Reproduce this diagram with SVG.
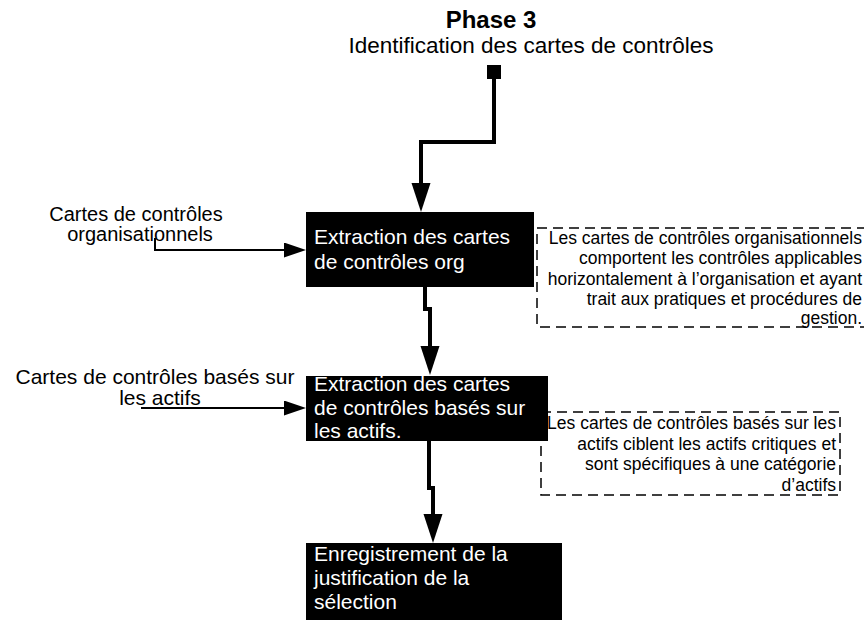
<svg xmlns="http://www.w3.org/2000/svg" width="864" height="620" viewBox="0 0 864 620">
<style>
text { font-family: "Liberation Sans", Arial, sans-serif; }
.title { font-size: 24px; font-weight: bold; fill: #000; }
.sub { font-size: 22.5px; fill: #000; }
.lbl { font-size: 20px; fill: #000; }
.lbl2 { font-size: 21px; fill: #000; }
.box { fill: #000; }
.bt { font-size: 21px; fill: #fff; }
.note { fill: none; stroke: #000; stroke-width: 1.5; stroke-dasharray: 10 6; }
.nt { font-size: 17.5px; fill: #000; text-anchor: end; }
.main { fill: none; stroke: #000; stroke-width: 4; }
.in { fill: none; stroke: #000; stroke-width: 2; }
</style>
<defs>
<marker id="bigArrow" markerUnits="userSpaceOnUse" markerWidth="30" markerHeight="20" refX="0" refY="9.5" orient="auto">
<path d="M0,0 L29,9.5 L0,19 z" fill="#000"/>
</marker>
<marker id="smallArrow" markerUnits="userSpaceOnUse" markerWidth="23" markerHeight="16" refX="0" refY="7.5" orient="auto">
<path d="M0,0 L22,7.5 L0,15 z" fill="#000"/>
</marker>
<marker id="sq" markerUnits="userSpaceOnUse" markerWidth="16" markerHeight="16" refX="7" refY="14" orient="0">
<rect x="0" y="0" width="14" height="14" fill="#000"/>
</marker>
</defs>

<g id="title">
<text class="title" x="491" y="28" text-anchor="middle">Phase 3</text>
<text class="sub" x="531" y="53" text-anchor="middle">Identification des cartes de contrôles</text>
</g>

<g id="input-org">
<text class="lbl" x="136" y="221" text-anchor="middle">Cartes de contrôles</text>
<text class="lbl" x="140" y="241" text-anchor="middle">organisationnels</text>
</g>

<g id="input-actifs">
<text class="lbl2" x="155" y="384" text-anchor="middle">Cartes de contrôles basés sur</text>
<text class="lbl2" x="160" y="405" text-anchor="middle">les actifs</text>
</g>

<g id="note-org">
<rect class="note" x="537" y="228" width="333" height="99"/>
<text class="nt" x="862" y="243.5">Les cartes de contrôles organisationnels</text>
<text class="nt" x="862" y="264">comportent les contrôles applicables</text>
<text class="nt" x="862" y="284.5">horizontalement à l’organisation et ayant</text>
<text class="nt" x="862" y="304.5">trait aux pratiques et procédures de</text>
<text class="nt" x="862" y="324">gestion.</text>
</g>

<g id="note-actifs">
<rect class="note" x="541" y="412" width="299" height="83"/>
<text class="nt" x="836" y="428.5">Les cartes de contrôles basés sur les</text>
<text class="nt" x="836" y="449.5">actifs ciblent les actifs critiques et</text>
<text class="nt" x="836" y="469.5">sont spécifiques à une catégorie</text>
<text class="nt" x="836" y="490.5">d’actifs</text>
</g>

<g id="box-extraction-org">
<rect class="box" x="306" y="212" width="228" height="75"/>
<text class="bt" x="314" y="244">Extraction des cartes</text>
<text class="bt" x="314" y="269">de contrôles org</text>
</g>

<g id="box-extraction-actifs">
<rect class="box" x="306" y="376" width="242" height="65"/>
<text class="bt" x="314" y="391">Extraction des cartes</text>
<text class="bt" x="314" y="415">de contrôles basés sur</text>
<text class="bt" x="314" y="438">les actifs.</text>
</g>

<g id="box-enregistrement">
<rect class="box" x="306" y="543" width="256" height="80"/>
<text class="bt" x="314" y="561">Enregistrement de la</text>
<text class="bt" x="314" y="585">justification de la</text>
<text class="bt" x="314" y="609">sélection</text>
</g>

<g id="connectors">
<path class="main" d="M494,79 V142 H421 V183" marker-start="url(#sq)" marker-end="url(#bigArrow)"/>
<path class="main" d="M425,287 V309 H430 V346" marker-end="url(#bigArrow)"/>
<path class="main" d="M429,441 V488 H433 V514" marker-end="url(#bigArrow)"/>
<path class="in" d="M155,238 V250 H284" marker-end="url(#smallArrow)"/>
<path class="in" d="M141,408 H284" marker-end="url(#smallArrow)"/>
</g>
</svg>
